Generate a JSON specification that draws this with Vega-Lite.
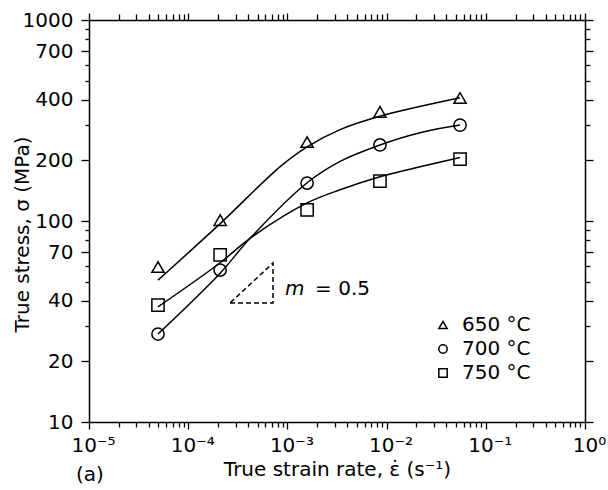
{
  "$schema": "https://vega.github.io/schema/vega-lite/v6.json",
  "width": 496,
  "height": 402,
  "autosize": {"type": "none"},
  "padding": {"left": 89, "top": 20, "right": 23, "bottom": 68},
  "background": "white",
  "config": {
    "view": {"stroke": null},
    "font": "DejaVu Sans",
    "axis": {
      "grid": false,
      "domainColor": "black",
      "tickColor": "black",
      "labelColor": "black",
      "titleColor": "black",
      "domainWidth": 1.5,
      "tickWidth": 1.3,
      "labelFont": "DejaVu Sans",
      "titleFont": "DejaVu Sans",
      "labelFontSize": 20,
      "titleFontSize": 20,
      "titleFontWeight": "normal"
    }
  },
  "datasets": {
    "pts": [
      {"x": 0.0000496, "y": 59, "T": "650 °C"},
      {"x": 0.00021, "y": 101, "T": "650 °C"},
      {"x": 0.00158, "y": 247, "T": "650 °C"},
      {"x": 0.00857, "y": 349, "T": "650 °C"},
      {"x": 0.055, "y": 409, "T": "650 °C"},
      {"x": 0.0000496, "y": 27.4, "T": "700 °C"},
      {"x": 0.00021, "y": 57, "T": "700 °C"},
      {"x": 0.00158, "y": 154.5, "T": "700 °C"},
      {"x": 0.00857, "y": 239, "T": "700 °C"},
      {"x": 0.055, "y": 300, "T": "700 °C"},
      {"x": 0.0000496, "y": 38.2, "T": "750 °C"},
      {"x": 0.00021, "y": 67.8, "T": "750 °C"},
      {"x": 0.00158, "y": 113.5, "T": "750 °C"},
      {"x": 0.00857, "y": 158, "T": "750 °C"},
      {"x": 0.055, "y": 203, "T": "750 °C"}
    ],
    "curves": [
      {"x": 0.0000496, "y": 50.8, "T": "650 °C"},
      {"x": 0.00021, "y": 97, "T": "650 °C"},
      {"x": 0.00084, "y": 186, "T": "650 °C"},
      {"x": 0.00158, "y": 234, "T": "650 °C"},
      {"x": 0.0034, "y": 285, "T": "650 °C"},
      {"x": 0.00857, "y": 332, "T": "650 °C"},
      {"x": 0.055, "y": 410, "T": "650 °C"},
      {"x": 0.0000496, "y": 27.4, "T": "700 °C"},
      {"x": 0.00021, "y": 55, "T": "700 °C"},
      {"x": 0.00042, "y": 82, "T": "700 °C"},
      {"x": 0.00158, "y": 155, "T": "700 °C"},
      {"x": 0.0034, "y": 198, "T": "700 °C"},
      {"x": 0.00857, "y": 239, "T": "700 °C"},
      {"x": 0.0217, "y": 275, "T": "700 °C"},
      {"x": 0.055, "y": 300, "T": "700 °C"},
      {"x": 0.0000496, "y": 37.4, "T": "750 °C"},
      {"x": 0.00021, "y": 62, "T": "750 °C"},
      {"x": 0.00042, "y": 82, "T": "750 °C"},
      {"x": 0.00158, "y": 123, "T": "750 °C"},
      {"x": 0.0034, "y": 143, "T": "750 °C"},
      {"x": 0.00857, "y": 166, "T": "750 °C"},
      {"x": 0.0217, "y": 186, "T": "750 °C"},
      {"x": 0.055, "y": 207, "T": "750 °C"}
    ],
    "tri": [
      {"x": 0.000264, "y": 39.1, "o": 1},
      {"x": 0.000716, "y": 39.1, "o": 2},
      {"x": 0.000716, "y": 61.8, "o": 3},
      {"x": 0.000264, "y": 39.1, "o": 4}
    ],
    "mtext": [
      {"x": 0.000946, "y": 42.9, "t": "m"}
    ],
    "otext": [
      {"x": 0.0019, "y": 42.9, "t": "= 0.5"},
      {"x": 0.0000074, "y": 5.09, "t": "(a)"}
    ]
  },
  "resolve": {"axis": {"x": "independent", "y": "independent"}},
  "layer": [
    {
      "data": {"name": "curves"},
      "mark": {"type": "line", "interpolate": "catmull-rom", "color": "black", "strokeWidth": 1.5},
      "encoding": {
        "x": {
          "field": "x", "type": "quantitative",
          "scale": {"type": "log", "domain": [0.00001, 1], "nice": false},
          "axis": {
            "orient": "bottom",
            "values": [0.00001, 0.0001, 0.001, 0.01, 0.1, 1],
            "tickSize": 7,
            "labelExpr": "datum.value < 0.00005 ? '10⁻⁵' : datum.value < 0.0005 ? '10⁻⁴' : datum.value < 0.005 ? '10⁻³' : datum.value < 0.05 ? '10⁻²' : datum.value < 0.5 ? '10⁻¹' : '10⁰'",
            "labelPadding": 6,
            "labelOffset": 4,
            "labelFlush": false,
            "labelOverlap": false,
            "title": "True strain rate, ε̇ (s⁻¹)",
            "titleY": 53,
            "titleBaseline": "alphabetic"
          }
        },
        "y": {
          "field": "y", "type": "quantitative",
          "scale": {"type": "log", "domain": [10, 1000], "nice": false},
          "axis": {
            "orient": "left",
            "values": [10, 20, 40, 70, 100, 200, 400, 700, 1000],
            "tickSize": 8,
            "labelExpr": "'' + datum.value",
            "labelPadding": 8,
            "labelFlush": false,
            "labelOverlap": false,
            "title": "True stress, σ (MPa)",
            "titleX": -61,
            "titleY": 214,
            "titleAngle": 270,
            "titleAlign": "center",
            "titleBaseline": "alphabetic"
          }
        },
        "detail": {"field": "T"}
      }
    },
    {
      "data": {"name": "pts"},
      "mark": {"type": "point", "filled": false, "color": "black", "strokeWidth": 1.5, "opacity": 1, "size": 150},
      "encoding": {
        "x": {
          "field": "x", "type": "quantitative",
          "scale": {"type": "log", "domain": [0.00001, 1], "nice": false},
          "axis": {
            "orient": "bottom",
            "values": [0.00002, 0.00003, 0.00004, 0.00005, 0.00006, 0.00007, 0.00008, 0.00009, 0.0002, 0.0003, 0.0004, 0.0005, 0.0006, 0.0007, 0.0008, 0.0009, 0.002, 0.003, 0.004, 0.005, 0.006, 0.007, 0.008, 0.009, 0.02, 0.03, 0.04, 0.05, 0.06, 0.07, 0.08, 0.09, 0.2, 0.3, 0.4, 0.5, 0.6, 0.7, 0.8, 0.9],
            "tickSize": 5,
            "labels": false,
            "domain": false,
            "title": null
          }
        },
        "y": {
          "field": "y", "type": "quantitative",
          "scale": {"type": "log", "domain": [10, 1000], "nice": false},
          "axis": {
            "orient": "left",
            "values": [30, 50, 60, 80, 90, 300, 500, 600, 800, 900],
            "tickSize": 4,
            "labels": false,
            "domain": false,
            "title": null
          }
        },
        "shape": {
          "field": "T", "type": "nominal",
          "scale": {"domain": ["650 °C", "700 °C", "750 °C"], "range": ["triangle-up", "circle", "square"]},
          "legend": {
            "orient": "none",
            "legendX": 344,
            "legendY": 295,
            "title": null,
            "labelFont": "DejaVu Sans",
            "labelFontSize": 20,
            "labelColor": "black",
            "symbolSize": 70,
            "symbolStrokeWidth": 1.5,
            "symbolStrokeColor": "black",
            "symbolFillColor": "transparent",
            "labelOffset": 9,
            "rowPadding": 4
          }
        }
      }
    },
    {
      "data": {"name": "tri"},
      "mark": {"type": "line", "color": "black", "strokeWidth": 1.5, "strokeDash": [5, 3]},
      "encoding": {
        "x": {
          "field": "x", "type": "quantitative",
          "scale": {"type": "log", "domain": [0.00001, 1], "nice": false},
          "axis": {
            "orient": "top",
            "values": [0.00001, 0.0001, 0.001, 0.01, 0.1, 1],
            "tickSize": 7,
            "labels": false,
            "title": null
          }
        },
        "y": {
          "field": "y", "type": "quantitative",
          "scale": {"type": "log", "domain": [10, 1000], "nice": false},
          "axis": {
            "orient": "right",
            "values": [10, 20, 40, 70, 100, 200, 400, 700, 1000],
            "tickSize": 8,
            "labels": false,
            "title": null
          }
        },
        "order": {"field": "o"}
      }
    },
    {
      "data": {"name": "mtext"},
      "mark": {"type": "text", "font": "DejaVu Sans", "fontSize": 20, "fontStyle": "italic", "align": "left", "baseline": "alphabetic", "color": "black"},
      "encoding": {
        "x": {
          "field": "x", "type": "quantitative",
          "scale": {"type": "log", "domain": [0.00001, 1], "nice": false},
          "axis": {
            "orient": "top",
            "values": [0.00002, 0.00003, 0.00004, 0.00005, 0.00006, 0.00007, 0.00008, 0.00009, 0.0002, 0.0003, 0.0004, 0.0005, 0.0006, 0.0007, 0.0008, 0.0009, 0.002, 0.003, 0.004, 0.005, 0.006, 0.007, 0.008, 0.009, 0.02, 0.03, 0.04, 0.05, 0.06, 0.07, 0.08, 0.09, 0.2, 0.3, 0.4, 0.5, 0.6, 0.7, 0.8, 0.9],
            "tickSize": 6,
            "labels": false,
            "domain": false,
            "title": null
          }
        },
        "y": {
          "field": "y", "type": "quantitative",
          "scale": {"type": "log", "domain": [10, 1000], "nice": false},
          "axis": {
            "orient": "right",
            "values": [30, 50, 60, 80, 90, 300, 500, 600, 800, 900],
            "tickSize": 5,
            "labels": false,
            "domain": false,
            "title": null
          }
        },
        "text": {"field": "t"}
      }
    },
    {
      "data": {"name": "otext"},
      "mark": {"type": "text", "font": "DejaVu Sans", "fontSize": 20, "align": "left", "baseline": "alphabetic", "color": "black"},
      "encoding": {
        "x": {
          "field": "x", "type": "quantitative",
          "scale": {"type": "log", "domain": [0.00001, 1], "nice": false},
          "axis": null
        },
        "y": {
          "field": "y", "type": "quantitative",
          "scale": {"type": "log", "domain": [10, 1000], "nice": false},
          "axis": null
        },
        "text": {"field": "t"}
      }
    }
  ]
}
